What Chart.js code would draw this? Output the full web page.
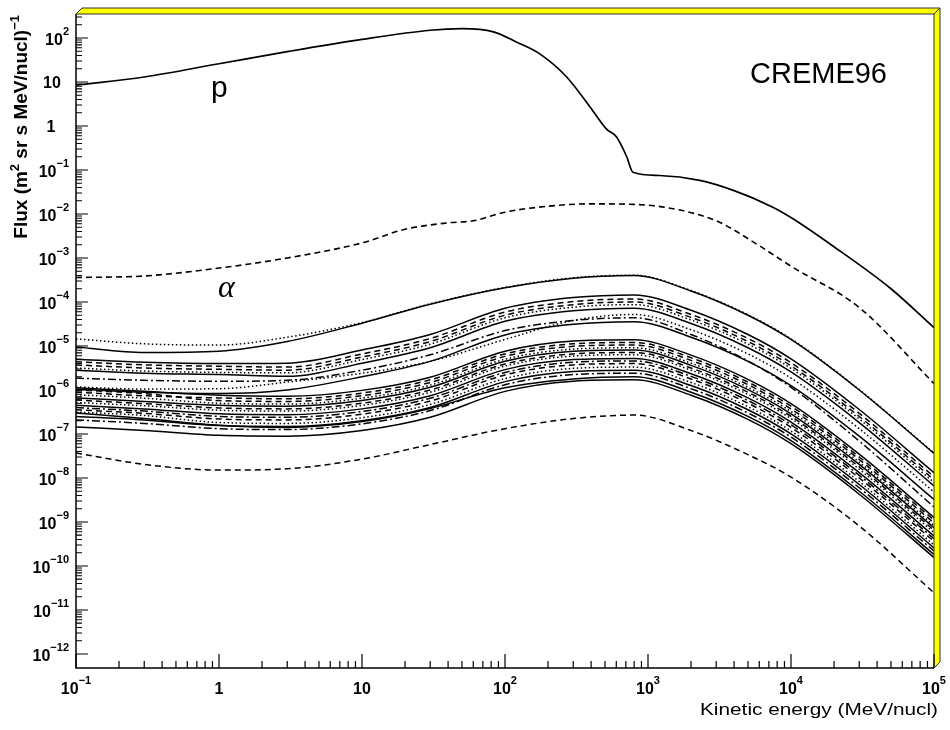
<!DOCTYPE html>
<html>
<head>
<meta charset="utf-8">
<title>CREME96 flux</title>
<script src="https://cdn.jsdelivr.net/npm/chart.js@4.4.1/dist/chart.umd.min.js"></script>
<style>
  body { margin: 0; background: #fff; }
  #wrap { width: 950px; height: 730px; }
</style>
</head>
<body>
<div id="wrap"><canvas id="fluxChart" width="950" height="730"></canvas></div>
<script>
// Kinetic energy grid (MeV/nucl) used by the Z > 2 curves
const energy = [0.1, 0.3, 1, 3, 10, 30, 100, 300, 800, 2000, 5000, 1e4, 3e4, 1e5];

// protons and alphas have their own sampling
const protonEnergy = [0.1, 0.3, 1, 3, 10, 30, 50, 83, 120, 176, 270, 412, 513, 603, 710, 785, 1200, 2300, 4000, 7400, 1e4, 19500, 5e4, 1e5];
const protonFlux = [8.5, 13, 26, 49, 93, 150, 163, 138, 81, 43, 13, 2.2, 0.85, 0.56, 0.2, 0.089, 0.075, 0.058, 0.034, 0.0145, 0.0083, 0.0019, 0.0002, 0.000026];

const alphaEnergy = [0.1, 0.3, 1, 3, 10, 20, 40, 60, 100, 200, 400, 800, 1350, 3000, 6000, 1e4, 3e4, 1e5];
const alphaFlux = [3.6e-4, 3.9e-4, 5.9e-4, 1.0e-3, 2.2e-3, 4.5e-3, 6.3e-3, 7.0e-3, 1.1e-2, 1.5e-2, 1.7e-2, 1.65e-2, 1.4e-2, 7.0e-3, 1.9e-3, 6.5e-4, 7.5e-5, 1.4e-6];

// heavy ions, flux on the energy grid above
const fluxO  = [1.45e-5, 1.12e-5, 1.05e-5, 1.58e-5, 3.39e-5, 9.1e-5, 2.14e-4, 3.55e-4, 4.07e-4, 1.82e-4, 5.13e-5, 1.45e-5, 1.02e-6, 3.7e-8];
const fluxC  = [9.5e-6, 7.1e-6, 7.6e-6, 1.26e-5, 3.3e-5, 8.9e-5, 2.1e-4, 3.47e-4, 3.98e-4, 1.78e-4, 5.0e-5, 1.41e-5, 1.0e-6, 3.6e-8];
const fluxB  = [5.0e-6, 4.27e-6, 3.98e-6, 4.07e-6, 8.1e-6, 1.82e-5, 7.2e-5, 1.26e-4, 1.45e-4, 6.5e-5, 1.82e-5, 5.1e-6, 3.6e-7, 1.32e-8];
const fluxN  = [4.37e-6, 3.72e-6, 3.47e-6, 3.31e-6, 6.6e-6, 1.48e-5, 5.9e-5, 1.02e-4, 1.17e-4, 5.2e-5, 1.48e-5, 4.17e-6, 2.95e-7, 1.07e-8];
const fluxMg = [3.72e-6, 3.16e-6, 2.95e-6, 2.82e-6, 5.6e-6, 1.26e-5, 5.0e-5, 8.7e-5, 1.0e-4, 4.47e-5, 1.26e-5, 3.55e-6, 2.5e-7, 9.1e-9];
const fluxNe = [3.16e-6, 2.69e-6, 2.51e-6, 2.45e-6, 4.9e-6, 1.1e-5, 4.37e-5, 7.6e-5, 8.7e-5, 3.9e-5, 1.1e-5, 3.1e-6, 2.19e-7, 7.9e-9];
const fluxSi = [2.82e-6, 2.4e-6, 2.24e-6, 2.04e-6, 4.07e-6, 9.1e-6, 3.63e-5, 6.3e-5, 7.2e-5, 3.24e-5, 9.1e-6, 2.57e-6, 1.82e-7, 6.6e-9];
const fluxLi = [1.17e-6, 1.05e-6, 1.07e-6, 1.51e-6, 2.4e-6, 4.47e-6, 1.41e-5, 3.8e-5, 5.2e-5, 2.34e-5, 6.6e-6, 1.86e-6, 1.32e-7, 4.8e-9];
const fluxFe = [1.86e-6, 1.66e-6, 1.58e-6, 1.66e-6, 2.82e-6, 6.3e-6, 2.24e-5, 3.8e-5, 4.37e-5, 1.82e-5, 4.57e-6, 1.15e-6, 6.9e-8, 2.19e-9];
const fluxBe = [1.05e-6, 8.9e-7, 8.3e-7, 1.0e-6, 2.0e-6, 4.47e-6, 1.78e-5, 3.1e-5, 3.55e-5, 1.58e-5, 4.47e-6, 1.26e-6, 8.9e-8, 3.24e-9];
const fluxNa = [1.12e-6, 9.3e-7, 7.6e-7, 7.2e-7, 9.8e-7, 1.95e-6, 7.6e-6, 1.29e-5, 1.38e-5, 6.2e-6, 1.74e-6, 4.9e-7, 3.47e-8, 1.26e-9];
const fluxAl = [8.9e-7, 7.4e-7, 6.6e-7, 6.3e-7, 8.5e-7, 1.7e-6, 6.6e-6, 1.12e-5, 1.2e-5, 5.4e-6, 1.51e-6, 4.27e-7, 3.0e-8, 1.1e-9];
const fluxS  = [1.0e-6, 8.3e-7, 5.75e-7, 5.5e-7, 7.4e-7, 1.48e-6, 5.8e-6, 9.8e-6, 1.05e-5, 4.7e-6, 1.32e-6, 3.7e-7, 2.63e-8, 9.5e-10];
const fluxF  = [7.8e-7, 6.5e-7, 5.0e-7, 4.8e-7, 6.5e-7, 1.29e-6, 5.0e-6, 8.5e-6, 9.1e-6, 4.07e-6, 1.15e-6, 3.24e-7, 2.29e-8, 8.3e-10];
const fluxCa = [6.6e-7, 5.5e-7, 4.47e-7, 4.27e-7, 5.75e-7, 1.15e-6, 4.5e-6, 7.6e-6, 8.1e-6, 3.63e-6, 1.02e-6, 2.88e-7, 2.04e-8, 7.4e-10];
const fluxAr = [5.9e-7, 4.9e-7, 3.9e-7, 3.72e-7, 5.0e-7, 1.0e-6, 3.9e-6, 6.6e-6, 7.1e-6, 3.16e-6, 8.9e-7, 2.51e-7, 1.78e-8, 6.5e-10];
const fluxCr = [5.2e-7, 4.37e-7, 3.47e-7, 3.31e-7, 4.47e-7, 8.9e-7, 3.5e-6, 5.9e-6, 6.3e-6, 2.82e-6, 7.9e-7, 2.24e-7, 1.58e-8, 5.75e-10];
const fluxTi = [4.47e-7, 3.72e-7, 2.88e-7, 2.75e-7, 3.72e-7, 7.4e-7, 2.9e-6, 4.9e-6, 5.2e-6, 2.34e-6, 6.6e-7, 1.86e-7, 1.32e-8, 4.8e-10];
const fluxK  = [3.98e-7, 3.31e-7, 2.51e-7, 2.4e-7, 3.24e-7, 6.5e-7, 2.5e-6, 4.27e-6, 4.57e-6, 2.04e-6, 5.75e-7, 1.62e-7, 1.15e-8, 4.17e-10];
const fluxMn = [3.55e-7, 2.95e-7, 2.19e-7, 2.09e-7, 2.82e-7, 5.6e-7, 2.2e-6, 3.72e-6, 3.98e-6, 1.78e-6, 5.0e-7, 1.41e-7, 1.0e-8, 3.63e-10];
const fluxP  = [3.16e-7, 2.63e-7, 1.82e-7, 1.74e-7, 2.34e-7, 4.7e-7, 1.82e-6, 3.1e-6, 3.31e-6, 1.48e-6, 4.17e-7, 1.17e-7, 8.3e-9, 3.0e-10];
const fluxCl = [2.51e-7, 2.09e-7, 1.55e-7, 1.48e-7, 2.0e-7, 4.0e-7, 1.55e-6, 2.63e-6, 2.82e-6, 1.26e-6, 3.55e-7, 1.0e-7, 7.1e-9, 2.57e-10];
const fluxV  = [2.09e-7, 1.74e-7, 1.32e-7, 1.26e-7, 1.7e-7, 3.4e-7, 1.32e-6, 2.24e-6, 2.4e-6, 1.07e-6, 3.0e-7, 8.5e-8, 6.0e-9, 2.19e-10];
const fluxNi = [3.0e-7, 2.24e-7, 1.58e-7, 1.41e-7, 1.91e-7, 3.8e-7, 1.12e-6, 1.78e-6, 2.0e-6, 8.9e-7, 2.51e-7, 7.1e-8, 5.0e-9, 1.82e-10];
const fluxSc = [1.45e-7, 1.2e-7, 9.3e-8, 8.9e-8, 1.2e-7, 2.4e-7, 9.3e-7, 1.58e-6, 1.7e-6, 7.6e-7, 2.14e-7, 6.0e-8, 4.27e-9, 1.55e-10];
const fluxCo = [3.7e-8, 2.04e-8, 1.51e-8, 1.62e-8, 2.69e-8, 5.75e-8, 1.32e-7, 2.24e-7, 2.69e-7, 1.2e-7, 3.39e-8, 1.05e-8, 8.1e-10, 2.45e-11];

// axis decades that get a label
const xTickPowers = [-1, 0, 1, 2, 3, 4, 5];
const yTickPowers = [2, 1, 0, -1, -2, -3, -4, -5, -6, -7, -8, -9, -10, -11, -12];

const SOLID = [];
const DASHED = [6, 4];
const DOTTED = [1.5, 2.5];
const DASHDOT = [8, 3, 2, 3];

function curve(xs, ys, dash, width) {
    return {
        data: xs.map((x, i) => ({ x: x, y: ys[i] })),
        borderColor: '#000',
        borderWidth: width || 1.5,
        borderDash: dash,
        pointRadius: 0,
        showLine: true,
        fill: false,
        cubicInterpolationMode: 'monotone'
    };
}

const heavy = [
    [fluxCo, DASHED], [fluxSc, SOLID], [fluxNi, SOLID], [fluxV, DASHDOT], [fluxCl, SOLID],
    [fluxP, DOTTED], [fluxMn, DASHED], [fluxK, DASHDOT], [fluxTi, SOLID], [fluxCr, DOTTED],
    [fluxAr, DASHED], [fluxCa, SOLID], [fluxF, DOTTED], [fluxS, DASHED], [fluxAl, DASHED],
    [fluxNa, SOLID], [fluxBe, SOLID], [fluxFe, DASHDOT], [fluxLi, DOTTED], [fluxSi, SOLID],
    [fluxNe, DOTTED], [fluxMg, DASHED], [fluxN, DASHED], [fluxB, SOLID], [fluxC, SOLID], [fluxO, DOTTED]
];

const datasets = heavy.map(h => curve(energy, h[0], h[1]));
datasets.push(curve(alphaEnergy, alphaFlux, DASHED, 1.6));
datasets.push(curve(protonEnergy, protonFlux, SOLID, 1.7));

const BASE_FONT = 'bold 16px "Liberation Sans", Arial, sans-serif';
const EXP_FONT = 'bold 11px "Liberation Sans", Arial, sans-serif';

function drawPower(ctx, base, exp, x, y, align) {
    ctx.font = BASE_FONT;
    const wb = ctx.measureText(base).width;
    let we = 0;
    if (exp) {
        ctx.font = EXP_FONT;
        we = ctx.measureText(exp).width;
    }
    const total = wb + we;
    const left = align === 'right' ? x - total : x - total / 2;
    ctx.font = BASE_FONT;
    ctx.fillText(base, left, y);
    if (exp) {
        ctx.font = EXP_FONT;
        ctx.fillText(exp, left + wb, y - 10);
    }
}

function expText(p) {
    return String(p).replace('-', '\u2212');
}

const decorations = {
    id: 'decorations',
    afterDraw(chart) {
        const ctx = chart.ctx;
        const a = chart.chartArea;
        const xs = chart.scales.x;
        const ys = chart.scales.y;
        ctx.save();

        // yellow bevelled frame on top and right
        ctx.fillStyle = '#ffff00';
        ctx.strokeStyle = '#333';
        ctx.lineWidth = 1;
        ctx.beginPath();
        ctx.moveTo(a.left, a.top);
        ctx.lineTo(a.left + 6, a.top - 6);
        ctx.lineTo(a.right + 6, a.top - 6);
        ctx.lineTo(a.right, a.top);
        ctx.closePath();
        ctx.fill();
        ctx.stroke();
        ctx.beginPath();
        ctx.moveTo(a.right, a.top);
        ctx.lineTo(a.right + 6, a.top - 6);
        ctx.lineTo(a.right + 6, a.bottom - 6);
        ctx.lineTo(a.right, a.bottom);
        ctx.closePath();
        ctx.fill();
        ctx.stroke();

        // axis lines
        ctx.strokeStyle = '#000';
        ctx.lineWidth = 1.5;
        ctx.beginPath();
        ctx.moveTo(a.left, a.top);
        ctx.lineTo(a.left, a.bottom);
        ctx.lineTo(a.right, a.bottom);
        ctx.stroke();

        // tick marks, drawn inside the frame
        ctx.lineWidth = 1.2;
        ctx.beginPath();
        xTickPowers.forEach(p => {
            const px = xs.getPixelForValue(Math.pow(10, p));
            ctx.moveTo(px, a.bottom);
            ctx.lineTo(px, a.bottom - 14);
            for (let m = 2; m <= 9 && p < 5; m++) {
                const mx = xs.getPixelForValue(m * Math.pow(10, p));
                ctx.moveTo(mx, a.bottom);
                ctx.lineTo(mx, a.bottom - 7);
            }
        });
        yTickPowers.forEach(p => {
            const py = ys.getPixelForValue(Math.pow(10, p));
            ctx.moveTo(a.left, py);
            ctx.lineTo(a.left + 12, py);
            for (let m = 2; m <= 9; m++) {
                const v = m * Math.pow(10, p);
                if (v > ys.max) break;
                const my = ys.getPixelForValue(v);
                ctx.moveTo(a.left, my);
                ctx.lineTo(a.left + 6, my);
            }
        });
        ctx.stroke();

        // tick labels
        ctx.fillStyle = '#000';
        ctx.textAlign = 'left';
        ctx.textBaseline = 'alphabetic';
        xTickPowers.forEach(p => {
            const px = xs.getPixelForValue(Math.pow(10, p));
            if (p === 0) drawPower(ctx, '1', null, px, 694, 'center');
            else if (p === 1) drawPower(ctx, '10', null, px, 694, 'center');
            else drawPower(ctx, '10', expText(p), px, 694, 'center');
        });
        yTickPowers.forEach(p => {
            const py = ys.getPixelForValue(Math.pow(10, p));
            if (p === 0) drawPower(ctx, '1', null, 51, py + 6, 'center');
            else if (p === 1) drawPower(ctx, '10', null, 52, py + 6, 'center');
            else drawPower(ctx, '10', expText(p), 69, py + 7, 'right');
        });

        // y title, rotated, ending at the top of the axis
        ctx.save();
        ctx.translate(27, 15);
        ctx.rotate(-Math.PI / 2);
        const titleFont = 'bold 19px "Liberation Sans", Arial, sans-serif';
        const supFont = 'bold 13px "Liberation Sans", Arial, sans-serif';
        const runs = [['Flux (m', titleFont, 0], ['2', supFont, -8], [' sr s MeV/nucl)', titleFont, 0], ['\u22121', supFont, -8]];
        let total = 0;
        runs.forEach(r => { ctx.font = r[1]; total += ctx.measureText(r[0]).width; });
        let cx = -total;
        runs.forEach(r => {
            ctx.font = r[1];
            ctx.fillText(r[0], cx, r[2]);
            cx += ctx.measureText(r[0]).width;
        });
        ctx.restore();

        // x title, a wide font in the original
        ctx.save();
        ctx.font = '16px "Liberation Sans", Arial, sans-serif';
        const xt = 'Kinetic energy (MeV/nucl)';
        const w = ctx.measureText(xt).width;
        ctx.translate(938, 715);
        ctx.scale(238 / w, 1);
        ctx.textAlign = 'right';
        ctx.fillText(xt, 0, 0);
        ctx.restore();

        // annotations
        ctx.font = '29px "Liberation Sans", Arial, sans-serif';
        ctx.fillText('CREME96', 750, 83);
        ctx.font = '30px "Liberation Sans", Arial, sans-serif';
        ctx.fillText('p', 211, 97);
        ctx.font = 'italic 32px "Liberation Serif", serif';
        ctx.fillText('\u03b1', 218, 297);

        ctx.restore();
    }
};

const chart = new Chart(document.getElementById('fluxChart').getContext('2d'), {
    type: 'scatter',
    data: { datasets: datasets },
    options: {
        responsive: false,
        animation: false,
        layout: { padding: { left: 76, right: 16, top: 14, bottom: 62 } },
        scales: {
            x: { type: 'logarithmic', min: 0.1, max: 1e5, bounds: 'data', display: false },
            y: { type: 'logarithmic', min: 4.8e-13, max: 351, bounds: 'data', display: false }
        },
        plugins: {
            legend: { display: false },
            tooltip: { enabled: false }
        }
    },
    plugins: [decorations]
});
</script>
</body>
</html>
